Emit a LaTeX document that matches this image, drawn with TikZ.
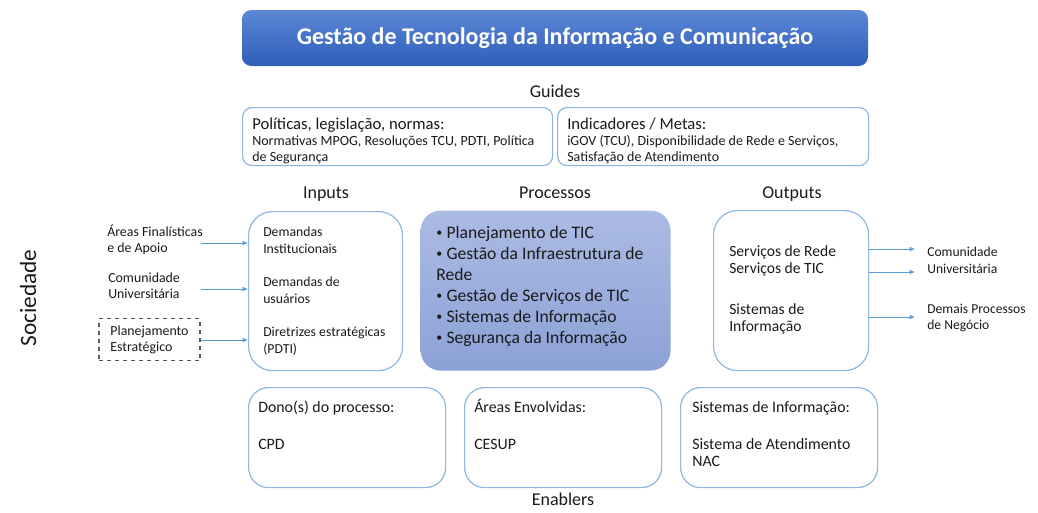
\documentclass[tikz,border=0pt]{standalone}
\usepackage{fontspec}
\setmainfont{Carlito}
\usetikzlibrary{arrows.meta}
\definecolor{titletop}{HTML}{5B87D6}
\definecolor{titlebot}{HTML}{2F5EB9}
\definecolor{proctop}{HTML}{ABBBE3}
\definecolor{procbot}{HTML}{8CA1D7}
\definecolor{boxline}{HTML}{8DB6E3}
\definecolor{arrowblue}{HTML}{5B9BD5}
\definecolor{dashgray}{HTML}{595959}
\definecolor{txt}{HTML}{1A1A1A}
\newcommand{\procbullet}{{\fontsize{9}{9}\selectfont\raisebox{1pt}{•}}\hspace{3.2pt}}

\begin{document}
\begin{tikzpicture}[x=0.75pt, y=-0.75pt,
    box/.style={draw=boxline, line width=0.9pt, anchor=north west, inner sep=0pt},
    txtline/.style={anchor=base west, inner sep=0pt, align=left, text=txt},
    arr/.style={draw=arrowblue, line width=0.6pt, -{Latex[length=4pt,width=3.5pt]}}]
    \useasboundingbox (0,0) rectangle (1038,512);

    % Title
    \node[rounded corners=7pt, top color=titletop, bottom color=titlebot,
          minimum width=469.5pt, minimum height=42pt, text=white,
          font=\fontsize{18}{21}\selectfont\bfseries] (title) at (555,38)
          {Gestão de Tecnologia da Informação e Comunicação};

    % Section labels
    \foreach \x/\y/\t in {555/97/Guides, 326/198/Inputs, 555/198/Processos, 792/198/Outputs, 563/505/Enablers}
        \node[anchor=base, inner sep=0pt, text=txt, font=\fontsize{13.5}{16}\selectfont] (lbl\t) at (\x,\y) {\t};

    % Guides (multi-line texts are placed by the baseline of their last line)
    \node[box, rounded corners=7pt, minimum width=232.5pt, minimum height=43.5pt] (policy) at (242,107) {};
    \node[box, rounded corners=7pt, minimum width=233.25pt, minimum height=43.5pt] (metrics) at (557,107) {};
    \node[txtline, font=\fontsize{12.5}{14}\selectfont] (policyhead) at (252,129) {Políticas, legislação, normas:};
    \node[txtline, font=\fontsize{10.5}{12}\selectfont] (policytext) at (252,161)
        {Normativas MPOG, Resoluções TCU, PDTI, Política\\de Segurança};
    \node[txtline, font=\fontsize{12.5}{14}\selectfont] (metricshead) at (567,129) {Indicadores / Metas:};
    \node[txtline, font=\fontsize{10.5}{12}\selectfont] (metricstext) at (567,161)
        {iGOV (TCU), Disponibilidade de Rede e Serviços,\\Satisfação de Atendimento};

    % Inputs
    \node[box, rounded corners=18pt, minimum width=115.5pt, minimum height=119.25pt] (inputs) at (248,211) {};
    \node[txtline, font=\fontsize{10.3}{12.75}\selectfont] (inputtext) at (263,353)
        {Demandas\\Institucionais\\[12pt]Demandas de\\usuários\\[12pt]Diretrizes estratégicas\\(PDTI)};

    % Processes
    \node[box, draw=none, rounded corners=15pt, top color=proctop, bottom color=procbot,
          minimum width=187.5pt, minimum height=120pt] (process) at (420,210) {};
    \node[txtline, font=\fontsize{13.2}{15.75}\selectfont] (processtext) at (436,343)
        {\procbullet Planejamento de TIC\\\procbullet Gestão da Infraestrutura de\\Rede\\\procbullet Gestão de Serviços de TIC\\\procbullet Sistemas de Informação\\\procbullet Segurança da Informação};

    % Outputs
    \node[box, rounded corners=18pt, minimum width=116.25pt, minimum height=120pt] (outputs) at (713,210) {};
    \node[txtline, font=\fontsize{11.7}{12.75}\selectfont] (outputtext) at (729,331)
        {Serviços de Rede\\Serviços de TIC\\[18pt]Sistemas de\\Informação};

    % Society side
    \node[rotate=90, inner sep=0pt, text=txt, font=\fontsize{17.5}{20}\selectfont] (society) at (28,298) {Sociedade};
    \node[txtline, font=\fontsize{10.4}{12}\selectfont] (finalist) at (107,252)
        {Áreas Finalísticas\\e de Apoio};
    \node[txtline, font=\fontsize{10.4}{12}\selectfont] (community) at (108,298)
        {Comunidade\\Universitária};
    \node[draw=dashgray, dashed, line width=0.8pt, minimum width=75.75pt, minimum height=31.5pt,
          align=left, text=txt, font=\fontsize{10.4}{12}\selectfont] (planning) at (149.5,339.5)
        {Planejamento\\Estratégico};

    \coordinate (in1) at (246,243);
    \coordinate (in2) at (246,289);
    \coordinate (in3) at (246,340);
    \foreach \c in {in1,in2,in3}
        \draw[arr] (planning.east |- \c) -- (inputs.west |- \c);

    % Output receivers
    \node[txtline, font=\fontsize{10.2}{12.75}\selectfont] (univ) at (927,273)
        {Comunidade\\Universitária};
    \node[txtline, font=\fontsize{10.2}{12}\selectfont] (others) at (927,329)
        {Demais Processos\\de Negócio};
    \coordinate (out1) at (915,249);
    \coordinate (out2) at (915,272);
    \coordinate (out3) at (915,317);
    \foreach \c in {out1,out2,out3}
        \draw[arr] (outputs.east |- \c) -- (\c);

    % Enablers
    \foreach \x/\n in {248/owner, 464/areas, 680/systems}
        \node[box, rounded corners=15pt, minimum width=147.75pt, minimum height=75pt] (\n) at (\x,387) {};
    \node[txtline, font=\fontsize{11.9}{12.75}\selectfont] (ownertext) at (258,449) {Dono(s) do processo:\\[15pt]CPD};
    \node[txtline, font=\fontsize{11.9}{12.75}\selectfont] (areastext) at (474,449) {Áreas Envolvidas:\\[15pt]CESUP};
    \node[txtline, font=\fontsize{11.9}{12.75}\selectfont] (systemstext) at (692,466)
        {Sistemas de Informação:\\[15pt]Sistema de Atendimento\\NAC};
\end{tikzpicture}
\end{document}
